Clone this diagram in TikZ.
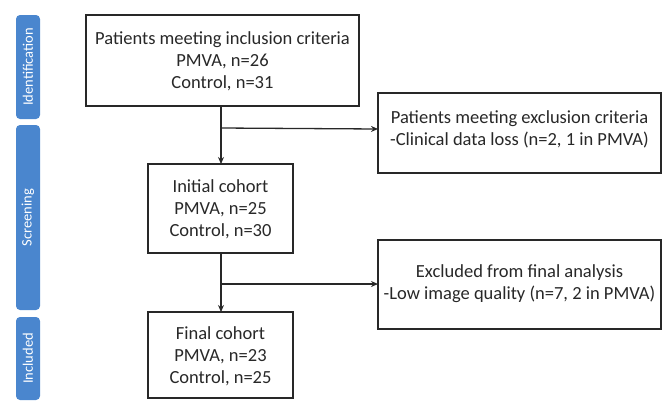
\documentclass[tikz,border=0pt]{standalone}
\usepackage{fontspec}
\setmainfont{Carlito}
\usetikzlibrary{arrows.meta}
\definecolor{phase}{RGB}{74,134,206}
\definecolor{ink}{RGB}{40,40,40}
\begin{document}
\begin{tikzpicture}[x=1pt,y=-1pt,
  phasebar/.style={fill=phase,rounded corners=4pt,draw=none},
  phasetext/.style={text=white,rotate=90,font=\fontsize{14.5}{16}\selectfont},
  flowbox/.style={draw=ink,line width=1.3pt,fill=white},
  boxtext/.style={align=center,font=\fontsize{18.5}{22}\selectfont,text=ink},
  flow/.style={draw=ink,line width=1.3pt,-{Stealth[length=7pt,width=6pt]}},
  plain/.style={draw=ink,line width=1.3pt}]
\useasboundingbox (0,0) rectangle (669,416);
% phase bars
\fill[phasebar] (16,15) rectangle (40,119);
\node[phasetext] (pid) at (28,67) {Identification};
\fill[phasebar] (16,125) rectangle (40,310);
\node[phasetext] (psc) at (28,217.5) {Screening};
\fill[phasebar] (16,317) rectangle (40,400);
\node[phasetext] (pin) at (28,358.5) {Included};
% boxes
\draw[flowbox] (86,15) rectangle (359,106);
\node[boxtext] (top) at (222.5,61) {Patients meeting inclusion criteria\\PMVA, n=26\\Control, n=31};
\coordinate (topb) at (221,106);
\draw[flowbox] (378,93) rectangle (661,173);
\node[boxtext] (ex1) at (519.5,129) {Patients meeting exclusion criteria\\-Clinical data loss (n=2, 1 in PMVA)};
\coordinate (ex1w) at (378,129);
\draw[flowbox] (148,164) rectangle (293,253);
\node[boxtext] (ini) at (220.5,209) {Initial cohort\\PMVA, n=25\\Control, n=30};
\coordinate (init) at (221,164);
\coordinate (inib) at (221,253);
\draw[flowbox] (378,240) rectangle (661,329);
\node[boxtext] (ex2) at (519.5,284) {Excluded from final analysis\\-Low image quality (n=7, 2 in PMVA)};
\coordinate (ex2w) at (378,284);
\draw[flowbox] (148,312) rectangle (293,398);
\node[boxtext] (fin) at (220.5,356) {Final cohort\\PMVA, n=23\\Control, n=25};
\coordinate (fint) at (221,312);
% connectors
\coordinate (j1) at (221,128);
\coordinate (j2) at (221,284);
\draw[flow] (topb) -- (init);
\draw[flow] (j1) -- (ex1w);
\draw[flow] (inib) -- (fint);
\draw[flow] (j2) -- (ex2w);
\end{tikzpicture}
\end{document}
